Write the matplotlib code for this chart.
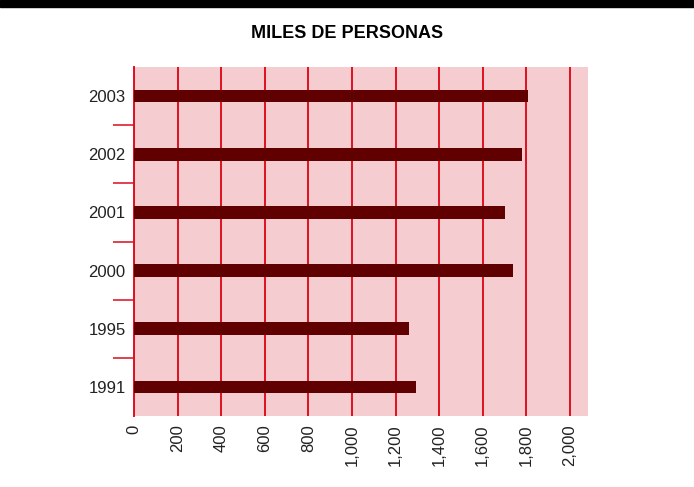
import matplotlib.pyplot as plt
from matplotlib.patches import Rectangle
import numpy as np

years = ['1991', '1995', '2000', '2001', '2002', '2003']
personas = [1293, 1261, 1739, 1702, 1780, 1807]
xticks = [0, 200, 400, 600, 800, 1000, 1200, 1400, 1600, 1800, 2000]

plt.rcParams['font.family'] = ['Liberation Sans', 'DejaVu Sans']

fig = plt.figure(figsize=(6.94, 4.87), dpi=100)
ax = fig.add_axes([134/694, 1 - 416/487, (588-134)/694, (416-67)/487])

# franja negra superior
fig.patches.append(Rectangle((0, 1 - 7/487), 1, 7/487, transform=fig.transFigure,
                             color='black', zorder=0))

ax.set_facecolor('#f5cdd0')
y = np.arange(len(years))
ax.barh(y, personas, height=0.22, color='#600000', zorder=3)

ax.set_xlim(0, 2083)
ax.set_ylim(-0.5, len(years) - 0.5)
ax.set_xticks(xticks)
ax.set_xticklabels([f'{v:,}' for v in xticks], rotation=90, fontsize=12, color='#222222')
ax.set_yticks(y)
ax.set_yticklabels(years, fontsize=12, color='#222222')
ax.set_yticks(y[:-1] + 0.5, minor=True)
ax.tick_params(axis='x', length=0, pad=6)
ax.tick_params(axis='y', which='major', length=0, pad=6)
ax.tick_params(axis='y', which='minor', length=15, width=1.3, color='#e03040')

ax.grid(axis='x', color='#e01020', linewidth=1.4, zorder=1)
for s in ['top', 'right', 'bottom']:
    ax.spines[s].set_visible(False)
ax.spines['left'].set_color('#e01020')
ax.spines['left'].set_linewidth(1.4)

fig.text(0.5, 1 - 33/487, 'MILES DE PERSONAS', ha='center', va='center',
         fontsize=13, fontweight='bold', fontstretch='condensed',
         family=['Liberation Sans Narrow', 'Liberation Sans', 'DejaVu Sans'])

fig.savefig('out.png', dpi=100)
